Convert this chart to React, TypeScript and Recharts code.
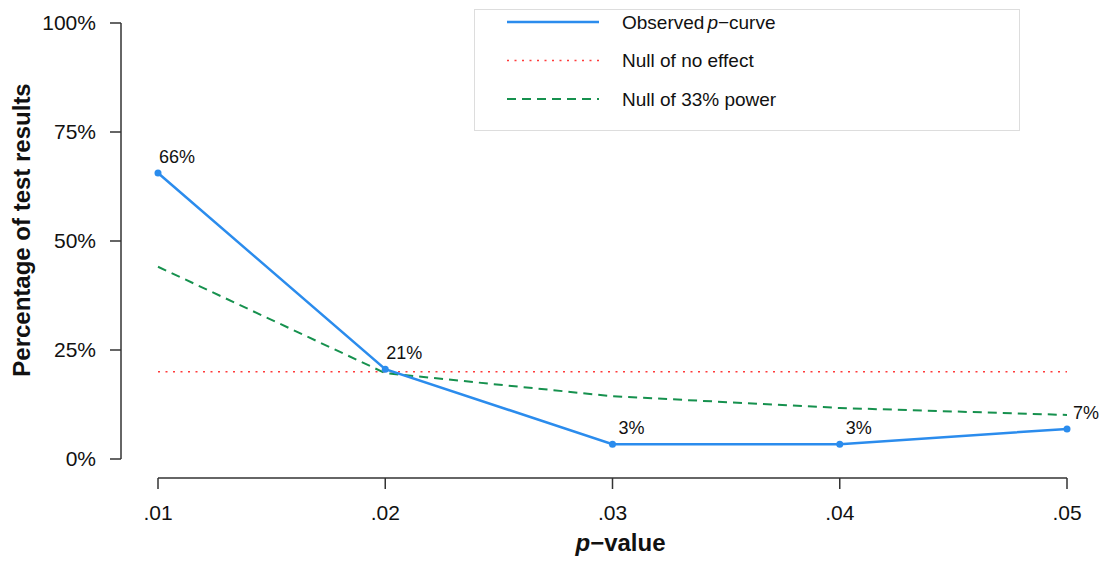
import React from 'react';
import { LineChart, Line, XAxis, YAxis, LabelList } from 'recharts';

// p-curve: share of significant results per p-value bin
const pValues = [0.01, 0.02, 0.03, 0.04, 0.05];
const xTickLabels = ['.01', '.02', '.03', '.04', '.05'];
const observed = [65.6, 20.6, 3.4, 3.4, 6.9];
const nullNoEffect = [20, 20, 20, 20, 20];
const null33Power = [44.1, 19.7, 14.4, 11.7, 10.1];
const yTicks = [0, 25, 50, 75, 100];

const FONT = '"Liberation Sans", Arial, Helvetica, sans-serif';
const AXIS = '#333';
const TEXT = '#111';
const BLUE = '#2b8ced';
const RED = '#ff3b3b';
const GREEN = '#16914e';

const Y_GAP = 37; // y axis drawn left of the first p-value, R style
const X_GAP = 19; // x axis drawn below 0%

const data = pValues.map((p, i) => ({
  p,
  observed: observed[i],
  noEffect: nullNoEffect[i],
  power33: null33Power[i],
}));

const legendItems = [
  { key: 'observed', color: BLUE, dash: undefined, width: 2.5 },
  { key: 'noEffect', color: RED, dash: '2 5.5', width: 1.6 },
  { key: 'power33', color: GREEN, dash: '9 6', width: 2 },
];

const YTick = ({ x, y, payload }: any) => {
  const ax = x - Y_GAP;
  return (
    <g>
      <line x1={ax} x2={ax - 11} y1={y} y2={y} stroke={AXIS} strokeWidth={1.5} />
      <text x={ax - 25} y={y} dy="0.35em" textAnchor="end" fontSize={21} fill={TEXT} fontFamily={FONT}>
        {payload.value}%
      </text>
    </g>
  );
};

const XTick = ({ x, y, index }: any) => {
  const ay = y + X_GAP;
  return (
    <g>
      <line x1={x} x2={x} y1={ay} y2={ay + 11} stroke={AXIS} strokeWidth={1.5} />
      <text x={x} y={ay + 42} textAnchor="middle" fontSize={21} fill={TEXT} fontFamily={FONT}>
        {xTickLabels[index]}
      </text>
    </g>
  );
};

const XTitle = ({ viewBox }: any) => {
  const vb = viewBox || { x: 158, y: 459, width: 909, height: 40 };
  return (
    <text x={vb.x + vb.width / 2 + 8} y={vb.y + 92} textAnchor="middle" fontSize={24} fontWeight="bold" fill={TEXT} fontFamily={FONT}>
      <tspan fontStyle="italic">p</tspan>−value
    </text>
  );
};

const YTitle = ({ viewBox }: any) => {
  const vb = viewBox || { x: 98, y: 23, width: 60, height: 436 };
  const cx = 22;
  const cy = vb.y + vb.height / 2 - 11;
  return (
    <text x={cx} y={cy} dy="0.35em" transform={`rotate(-90 ${cx} ${cy})`} textAnchor="middle" fontSize={24} fontWeight="bold" fill={TEXT} fontFamily={FONT}>
      Percentage of test results
    </text>
  );
};

const ObservedLabel = ({ x, y, value }: any) => (
  <text x={x + 19} y={y - 16} dy="0.35em" textAnchor="middle" fontSize={18} fill={TEXT} fontFamily={FONT}>
    {Math.round(value)}%
  </text>
);

const legendText = (key: string) => {
  if (key === 'observed') {
    return (
      <>
        Observed<tspan fontStyle="italic" dx={3}>p</tspan>−curve
      </>
    );
  }
  if (key === 'noEffect') return 'Null of no effect';
  return 'Null of 33% power';
};

const PLegend = () => (
  <div style={{ position: 'absolute', left: 474, top: 9, width: 546, height: 122, border: '1.5px solid #dddddd', background: '#fff', boxSizing: 'border-box' }}>
    <svg width={546} height={122} style={{ position: 'absolute', left: -1.5, top: -1.5 }}>
      {legendItems.map((item, i) => {
        const cy = 13 + i * 38.5;
        return (
          <g key={item.key}>
            <line x1={33} x2={125} y1={cy} y2={cy} stroke={item.color} strokeWidth={item.width} strokeDasharray={item.dash} />
            <text x={148} y={cy} dy="0.35em" fontSize={19} fill={TEXT} fontFamily={FONT}>
              {legendText(item.key)}
            </text>
          </g>
        );
      })}
    </svg>
  </div>
);

export default function App() {
  return (
    <div style={{ position: 'relative', width: 1106, height: 563, background: '#fff' }}>
      <style>{'body{margin:0}'}</style>
      <LineChart width={1106} height={563} data={data} margin={{ top: 23, right: 39, bottom: 64, left: 98 }}>
        <XAxis
          dataKey="p"
          type="number"
          domain={[0.01, 0.05]}
          ticks={pValues}
          interval={0}
          height={40}
          tickSize={0}
          tickMargin={0}
          tickLine={false}
          tick={<XTick />}
          axisLine={{ stroke: AXIS, strokeWidth: 1.5, transform: `translate(0 ${X_GAP})` }}
          label={{ content: XTitle }}
        />
        <YAxis
          type="number"
          domain={[0, 100]}
          ticks={yTicks}
          interval={0}
          width={60}
          tickSize={0}
          tickMargin={0}
          tickLine={false}
          tick={<YTick />}
          axisLine={{ stroke: AXIS, strokeWidth: 1.5, transform: `translate(${-Y_GAP} 0)` }}
          label={{ content: YTitle }}
        />
        <Line type="linear" dataKey="noEffect" stroke={RED} strokeWidth={1.6} strokeDasharray="2 5.5" dot={false} activeDot={false} isAnimationActive={false} />
        <Line type="linear" dataKey="power33" stroke={GREEN} strokeWidth={2} strokeDasharray="9 6" dot={false} activeDot={false} isAnimationActive={false} />
        <Line
          type="linear"
          dataKey="observed"
          stroke={BLUE}
          strokeWidth={2.5}
          dot={{ r: 3.5, fill: BLUE, stroke: BLUE, strokeWidth: 0 }}
          activeDot={false}
          isAnimationActive={false}
        >
          <LabelList dataKey="observed" content={ObservedLabel} />
        </Line>
      </LineChart>
      <PLegend />
    </div>
  );
}
